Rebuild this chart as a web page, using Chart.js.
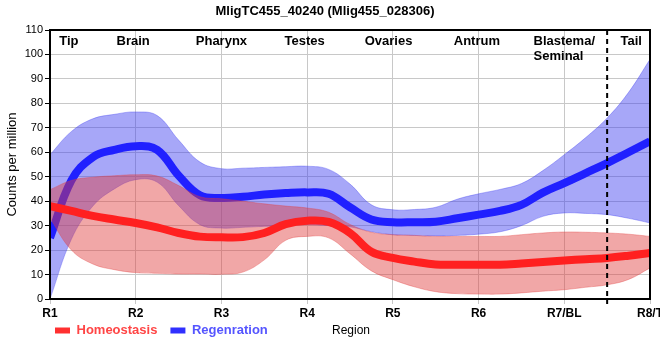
<!DOCTYPE html>
<html><head><meta charset="utf-8">
<script src="https://cdn.jsdelivr.net/npm/chart.js@4.4.0/dist/chart.umd.min.js"></script>
<style>html,body{margin:0;padding:0;background:#fff}canvas{display:block}</style>
</head><body>
<canvas id="c" width="660" height="360"></canvas>
<script>
const chartTitle = 'MligTC455_40240 (Mlig455_028306)';
const xTickLabels = ['R1','R2','R3','R4','R5','R6','R7/BL','R8/T'];
const xAxisTitle = 'Region';
const yAxisTitle = 'Counts per million';
const regionNames = ['Tip','Brain','Pharynx','Testes','Ovaries','Antrum','Blastema/\nSeminal','Tail'];
const regionPos = [1.22, 1.97, 3.0, 3.97, 4.95, 5.98, 7.0, 7.78];
const tailDivider = 7.5;
const seriesNames = ['Homeostasis','Regenration'];

const xs = [1,1.25,1.5,1.75,2,2.25,2.5,2.75,3,3.25,3.5,3.75,4,4.25,4.5,4.75,5,5.25,5.5,5.75,6,6.25,6.5,6.75,7,7.25,7.5,7.75,8];

const homeoMean  = [38,36,34,32.5,31.1,29.3,27,25.5,25.2,25.3,27,30.6,32,31.5,27,19.3,16.8,15.3,14.1,14,14,14,14.5,15.1,15.7,16.3,16.8,17.7,18.8];
const homeoUpper = [44.7,48.5,49.8,50.4,50.8,50.3,46.4,41.8,41,40,38.9,38,37.2,35.5,30.5,27.3,26.3,26,25.6,25.6,25.6,25.6,26.3,27,27.4,27.3,27,26.5,25.6];
const homeoLower = [33,20,14.3,12,10.8,10.5,10.2,10.2,10.1,11,16,24,25.6,25,18.5,11.5,7.9,5,3,2.2,2,2,2.5,3.2,3.8,4.8,5.8,8,12.7];

const regenMean  = [25,48.5,58,61,62.5,61,50.5,42.4,41.3,41.8,42.7,43.3,43.6,43,37.5,32.5,31.4,31.4,31.6,33,34.5,36,38.5,43.5,47.4,51.5,55.6,60,64.5];
const regenUpper = [59,68.5,73.7,75.5,76.5,75,65,56,53.3,53.5,53.8,54.1,54.3,53,47,38.5,36.5,36.6,37.5,40.8,43,44.8,47.2,52.5,59,66,74,84.5,98];
const regenLower = [0,24.5,38,45,48.8,47.8,38.2,30.4,29,29.3,29.7,30,30.4,30,29.5,27.5,26.3,26,25.8,26,26.5,27.5,30,33.8,35.2,35,34.5,33,31.1];

const FONT = "'Liberation Sans', Arial, sans-serif";
Chart.defaults.font.family = FONT;
Chart.defaults.color = '#000';

const pts = arr => arr.map((v, i) => ({x: xs[i], y: v}));
const base = {pointRadius: 0, pointHoverRadius: 0, tension: 0.4, borderCapStyle: 'butt'};
const legendTextColors = ['#ff4545', '#5555ff'];

const overlay = {
  id: 'overlay',
  afterLayout(chart) {
    chart.legend.left = chart.chartArea.left - 8;
    chart.legend.top = chart.chartArea.bottom + 12;
  },
  afterDatasetsDraw(chart) {
    const {ctx, chartArea: a, scales: {x}} = chart;
    ctx.save();
    const dx = x.getPixelForValue(tailDivider);
    ctx.strokeStyle = '#000';
    ctx.lineWidth = 2;
    ctx.setLineDash([5, 4]);
    ctx.beginPath(); ctx.moveTo(dx, a.top); ctx.lineTo(dx, a.bottom); ctx.stroke();
    ctx.setLineDash([]);
    ctx.beginPath(); ctx.moveTo(dx, a.bottom); ctx.lineTo(dx, a.bottom + 5); ctx.stroke();
    ctx.strokeRect(a.left, a.top, a.right - a.left, a.bottom - a.top);
    ctx.fillStyle = '#000';
    ctx.font = 'bold 13px ' + FONT;
    ctx.textBaseline = 'middle';
    ctx.textAlign = 'left';
    regionNames.forEach((name, i) => {
      const lines = name.split('\n');
      const w = Math.max(...lines.map(l => ctx.measureText(l).width));
      const left = x.getPixelForValue(regionPos[i]) - w / 2;
      lines.forEach((l, j) => ctx.fillText(l, left, a.top + 11 + j * 15));
    });
    ctx.font = '12px ' + FONT;
    ctx.textAlign = 'center';
    ctx.fillText(xAxisTitle, (a.left + a.right) / 2 + 1, a.bottom + 32);
    ctx.restore();
  }
};

new Chart(document.getElementById('c'), {
  type: 'line',
  data: {
    datasets: [
      Object.assign({}, base, {label: seriesNames[0], data: pts(homeoMean), borderColor: '#ff2020', backgroundColor: '#ff3030', borderWidth: 8, fill: false, order: 1}),
      Object.assign({}, base, {label: seriesNames[1], data: pts(regenMean), borderColor: '#2020ff', backgroundColor: '#3030ff', borderWidth: 8, fill: false, order: 4}),
      Object.assign({}, base, {label: '', data: pts(homeoLower), borderColor: 'rgba(225,60,60,0.35)', borderWidth: 1, fill: false, order: 3}),
      Object.assign({}, base, {label: '', data: pts(homeoUpper), borderColor: 'rgba(225,60,60,0.35)', borderWidth: 1, backgroundColor: 'rgba(225,60,60,0.45)', fill: {target: 2}, order: 2}),
      Object.assign({}, base, {label: '', data: pts(regenLower), borderColor: 'rgba(60,60,240,0.35)', borderWidth: 1, fill: false, order: 6}),
      Object.assign({}, base, {label: '', data: pts(regenUpper), borderColor: 'rgba(60,60,240,0.35)', borderWidth: 1, backgroundColor: 'rgba(60,60,240,0.45)', fill: {target: 4}, order: 5})
    ]
  },
  options: {
    responsive: false,
    animation: false,
    events: [],
    layout: {padding: {top: 0, left: 0, right: 10, bottom: 1}},
    plugins: {
      title: {display: true, text: chartTitle, color: '#000', font: {size: 13, weight: 'bold'}, padding: {top: 4, bottom: 10.4}},
      tooltip: {enabled: false},
      legend: {
        position: 'bottom',
        align: 'start',
        labels: {
          boxWidth: 15, boxHeight: 6, padding: 13,
          font: {size: 13, weight: 'bold'},
          generateLabels(chart) {
            return Chart.defaults.plugins.legend.labels.generateLabels(chart)
              .filter(it => it.datasetIndex < 2)
              .map(it => Object.assign(it, {lineWidth: 0, fontColor: legendTextColors[it.datasetIndex]}));
          }
        }
      }
    },
    scales: {
      x: {
        type: 'linear', min: 1, max: 8,
        border: {display: false},
        grid: {color: '#c8c8c8', tickLength: 5, tickColor: '#c8c8c8'},
        ticks: {stepSize: 1, autoSkip: false, maxRotation: 0, padding: 2, font: {size: 12, weight: 'bold'},
          callback: v => xTickLabels[Math.round(v) - 1]},
        afterFit(s) { s.height = 24; s.paddingLeft = 0; s.paddingRight = 0; }
      },
      y: {
        min: 0, max: 110,
        border: {display: false},
        grid: {color: '#c8c8c8', tickLength: 5, tickColor: '#000'},
        ticks: {stepSize: 10, padding: 2, font: {size: 11}},
        title: {display: true, text: yAxisTitle, font: {size: 13}, padding: {top: 5, bottom: 0}},
        afterFit(s) { s.width = 50; s.paddingTop = 0; s.paddingBottom = 0; }
      }
    }
  },
  plugins: [overlay]
});
</script>
</body></html>
